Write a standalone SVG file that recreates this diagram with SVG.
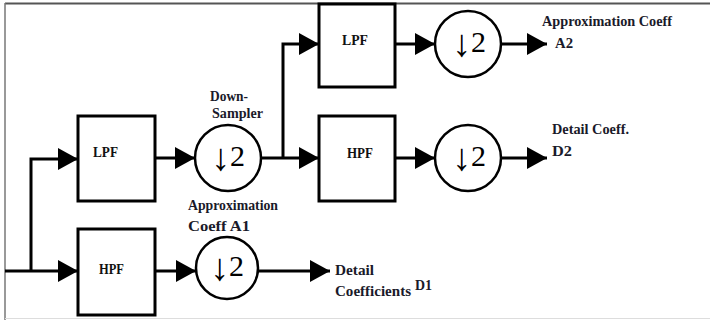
<svg xmlns="http://www.w3.org/2000/svg" width="710" height="320" viewBox="0 0 710 320">
<defs>
<marker id="ah" markerUnits="userSpaceOnUse" markerWidth="20" markerHeight="22" refX="20" refY="11" orient="auto">
<path d="M0,0 L20,11 L0,22 z" fill="#000"/>
</marker>
<style>
.box{fill:#fff;stroke:#000;stroke-width:3}
.ds{fill:#fff;stroke:#000;stroke-width:2.5}
.ln{fill:none;stroke:#000;stroke-width:3;marker-end:url(#ah)}
text{font-family:"Liberation Serif","Times New Roman",serif}
.bl{font-weight:bold;font-size:15px;fill:#111}
.lb{font-weight:bold;font-size:14px;fill:#1a1a2a}
.sym{font-size:30px;fill:#000;text-anchor:middle}
.arr{font-size:38px}
</style>
</defs>
<rect width="710" height="320" fill="#fff"/>
<g id="frame" fill="none">
<path d="M5,3.5 H710" stroke="#555" stroke-width="2"/>
<path d="M5,3 V320" stroke="#777" stroke-width="1.5"/>
<path d="M5,318.5 H710" stroke="#ddd" stroke-width="1"/>
</g>
<g id="connectors">
<path class="ln" d="M5,271 H78"/>
<path class="ln" d="M31,271 V159 H78"/>
<path class="ln" d="M155,158 H195"/>
<path class="ln" d="M155,271 H196"/>
<path class="ln" d="M258,271 H330"/>
<path class="ln" d="M261,158 H319"/>
<path class="ln" d="M283,158 V44 H319"/>
<path class="ln" d="M395,44 H435"/>
<path class="ln" d="M395,158 H435"/>
<path class="ln" d="M501,44 H547"/>
<path class="ln" d="M501,158 H547"/>
</g>
<g id="lpf1"><rect class="box" x="78" y="116" width="77" height="85"/><text class="bl" x="93" y="157" textLength="25" lengthAdjust="spacingAndGlyphs">LPF</text></g>
<g id="hpf1"><rect class="box" x="78" y="229" width="77" height="86"/><text class="bl" x="99" y="274" textLength="25" lengthAdjust="spacingAndGlyphs">HPF</text></g>
<g id="ds1"><circle class="ds" cx="228" cy="158" r="33"/><text class="sym" x="228" y="166"><tspan class="arr" dy="4">↓</tspan><tspan dy="-4">2</tspan></text></g>
<g id="ds1b"><circle class="ds" cx="227" cy="268" r="31"/><text class="sym" x="227" y="276"><tspan class="arr" dy="4">↓</tspan><tspan dy="-4">2</tspan></text></g>
<g id="lpf2"><rect class="box" x="319" y="4" width="76" height="83"/><text class="bl" x="342" y="45" textLength="26" lengthAdjust="spacingAndGlyphs">LPF</text></g>
<g id="hpf2"><rect class="box" x="319" y="116" width="76" height="85"/><text class="bl" x="347" y="158" textLength="26" lengthAdjust="spacingAndGlyphs">HPF</text></g>
<g id="ds2a"><circle class="ds" cx="468" cy="44" r="33"/><text class="sym" x="469" y="52"><tspan class="arr" dy="4">↓</tspan><tspan dy="-4">2</tspan></text></g>
<g id="ds2d"><circle class="ds" cx="468" cy="158" r="33"/><text class="sym" x="469" y="166"><tspan class="arr" dy="4">↓</tspan><tspan dy="-4">2</tspan></text></g>
<g id="labels">
<text class="lb" x="210" y="101" textLength="38" lengthAdjust="spacingAndGlyphs">Down-</text>
<text class="lb" x="212" y="118" textLength="51" lengthAdjust="spacingAndGlyphs">Sampler</text>
<text class="lb" x="188" y="210" textLength="90" lengthAdjust="spacingAndGlyphs">Approximation</text>
<text class="lb" x="188" y="231" textLength="62" lengthAdjust="spacingAndGlyphs">Coeff A1</text>
<text class="lb" x="542" y="26" textLength="130" lengthAdjust="spacingAndGlyphs">Approximation Coeff</text>
<text class="lb" x="555" y="48" textLength="18" lengthAdjust="spacingAndGlyphs">A2</text>
<text class="lb" x="552" y="134" textLength="77" lengthAdjust="spacingAndGlyphs">Detail Coeff.</text>
<text class="lb" x="552" y="156" textLength="20" lengthAdjust="spacingAndGlyphs">D2</text>
<text class="lb" x="335" y="275" textLength="39" lengthAdjust="spacingAndGlyphs">Detail</text>
<text class="lb" x="335" y="296" textLength="76" lengthAdjust="spacingAndGlyphs">Coefficients</text>
<text class="lb" x="415" y="290" textLength="17" lengthAdjust="spacingAndGlyphs">D1</text>
</g>
</svg>
